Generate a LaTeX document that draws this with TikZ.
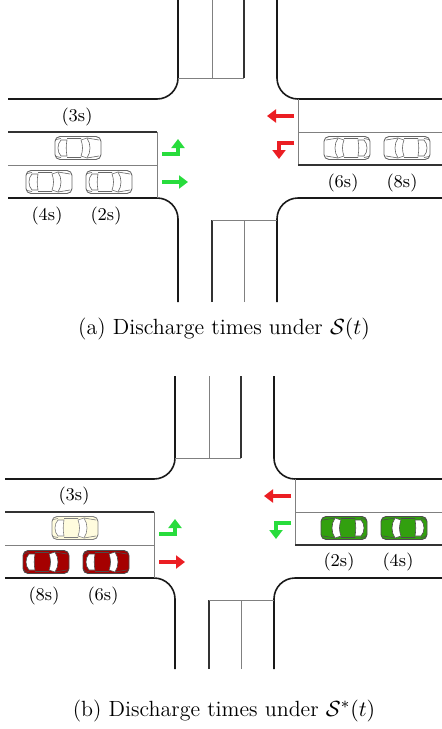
\documentclass[tikz,border=0pt]{standalone}
\usepackage{amsfonts}
\usetikzlibrary{arrows.meta}
\colorlet{curb edge}{black!90}
\colorlet{lane line}{black!50}
\definecolor{sig green}{RGB}{40,220,60}
\definecolor{sig red}{RGB}{235,30,35}
\definecolor{car red}{RGB}{165,0,0}
\definecolor{car green}{RGB}{50,160,15}
\definecolor{car cream}{RGB}{255,252,222}
\tikzset{
  curb/.style={draw=curb edge, line width=0.8pt, rounded corners=10.5pt},
  divider/.style={draw=black!80, line width=0.6pt},
  laneline/.style={draw=lane line, line width=0.5pt},
  signal/.style={line width=2pt, -{Triangle[width=6.5pt,length=4.5pt]}},
  timelabel/.style={font=\small, inner sep=0pt},
  caption/.style={font=\fontsize{11}{13}\selectfont, inner sep=0pt},
  pics/car/.style 2 args={code={
    \draw[fill=#1, draw=#2, line width=0.45pt, rounded corners=2.5pt] (-23,-11.5) rectangle (23,11.5);
    \draw[draw=#2, line width=0.3pt] (-11,-9.5) -- (3,-9.5) (-11,9.5) -- (3,9.5)
      (9,-10) -- (21,-8) (9,10) -- (21,8) (-17,-9.5) -- (-22,-8.5) (-17,9.5) -- (-22,8.5);
    \filldraw[fill=white, draw=#2, line width=0.3pt] (-11,-8) -- (-17,-8)
      .. controls (-21,-4) and (-21,4) .. (-17,8) -- (-11,8)
      .. controls (-12,3) and (-12,-3) .. (-11,-8) -- cycle;
    \filldraw[fill=white, draw=#2, line width=0.3pt] (3,-8)
      .. controls (5,-3) and (5,3) .. (3,8) -- (9,10)
      .. controls (13,4) and (13,-4) .. (9,-10) -- cycle;
  }}
}
% road layout of one crossing, #1 = lower end of the south arm
\newcommand\crossing[1]{%
  \draw[curb] (8,99) -| (178,-4);
  \draw[curb] (445,99) -| (277,-4);
  \draw[curb] (8,198) -| (178,#1);
  \draw[curb] (445,198) -| (277,#1);
  \draw[laneline] (212,-4) -- (212,78) (178,78) -- (244,78);
  \draw[divider] (244,-4) -- (244,78);
  \draw[divider] (8,132) -- (157,132);
  \draw[laneline] (8,165) -- (157,165) (157,132) -- (157,198);
  \draw[laneline] (445,132) -- (298,132) (298,99) -- (298,165);
  \draw[divider] (445,165) -- (298,165);
  \draw[divider] (212,#1) -- (212,220);
  \draw[laneline] (244,#1) -- (244,220) (212,220) -- (277,220);
}
\begin{document}
\begin{tikzpicture}[x=0.5pt, y=-0.5pt]
  \useasboundingbox (0,0) rectangle (442,729);
  \clip (0,0) rectangle (442,729);

  % (a)
  \begin{scope}
    \crossing{302}
    \pic at (78,148) {car={white}{black!60}};
    \pic at (49,182) {car={white}{black!60}};
    \pic at (109,182) {car={white}{black!60}};
    \pic[rotate=180] at (347,148) {car={white}{black!60}};
    \pic[rotate=180] at (407,148) {car={white}{black!60}};
    \draw[signal, sig green] (162,154) -| (178,139);
    \draw[signal, sig green] (162,182) -- (188,182);
    \draw[signal, sig red] (294,116) -- (267,116);
    \draw[signal, sig red] (294,143) -| (279,159);
    \node[timelabel] (a3) at (77,117) {(3s)};
    \node[timelabel] (a4) at (47,216) {(4s)};
    \node[timelabel] (a2) at (106,216) {(2s)};
    \node[timelabel] (a6) at (343,183) {(6s)};
    \node[timelabel] (a8) at (402,183) {(8s)};
  \end{scope}
  \node[caption] (capa) at (224,329) {(a) Discharge times under $\mathcal{S}(t)$};

  % (b)
  \begin{scope}[shift={(-3,380)}]
    \crossing{289}
    \pic at (78,148) {car={car cream}{black!50}};
    \pic at (49,182) {car={car red}{black!70}};
    \pic at (109,182) {car={car red}{black!70}};
    \pic[rotate=180] at (347,148) {car={car green}{black!70}};
    \pic[rotate=180] at (407,148) {car={car green}{black!70}};
    \draw[signal, sig green] (162,154) -| (178,139);
    \draw[signal, sig red] (162,182) -- (188,182);
    \draw[signal, sig red] (294,116) -- (267,116);
    \draw[signal, sig green] (294,143) -| (279,159);
    \node[timelabel] (b3) at (77,116) {(3s)};
    \node[timelabel] (b8) at (47,216) {(8s)};
    \node[timelabel] (b6) at (106,216) {(6s)};
    \node[timelabel] (b2) at (342,182) {(2s)};
    \node[timelabel] (b4) at (401,182) {(4s)};
  \end{scope}
  \node[caption] (capb) at (224,711) {(b) Discharge times under $\mathcal{S}^{*}(t)$};
\end{tikzpicture}
\end{document}
